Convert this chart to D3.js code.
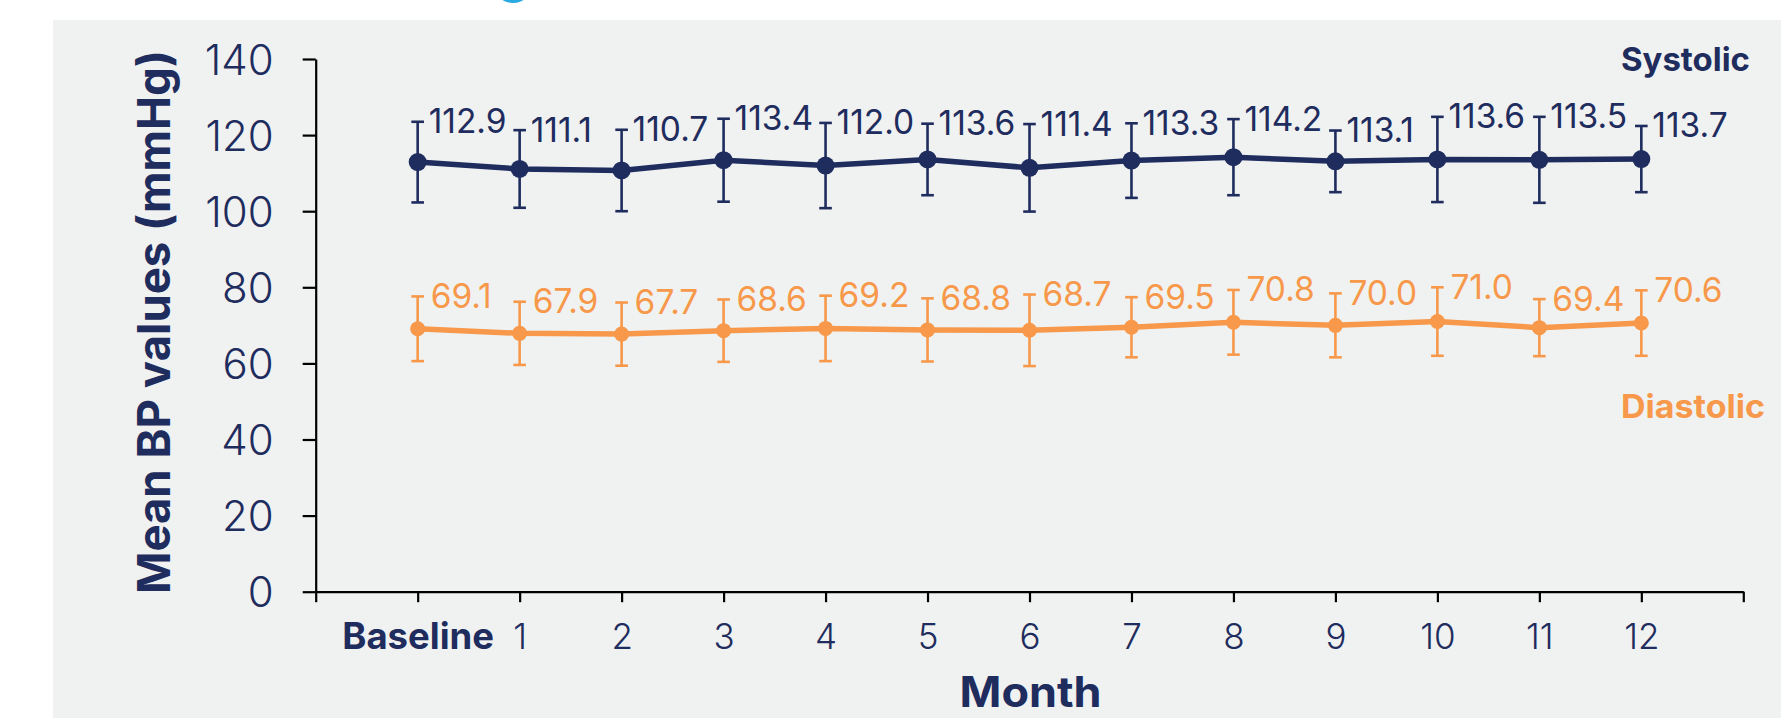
<!DOCTYPE html>
<html>
<head>
<meta charset="utf-8">
<script src="https://cdn.jsdelivr.net/npm/d3@7"></script>
<style>
  html, body { margin: 0; padding: 0; background: #ffffff; }
  svg { display: block; }
  text { font-family: "Inter", "Open Sans", sans-serif; }
</style>
</head>
<body>
<svg id="chart" width="1792" height="718"></svg>
<script>
// Mean blood pressure by month, with SD error bars
const months = [0, 1, 2, 3, 4, 5, 6, 7, 8, 9, 10, 11, 12];
const monthLabels = ["Baseline", "1", "2", "3", "4", "5", "6", "7", "8", "9", "10", "11", "12"];
const systolicMean = [112.9, 111.1, 110.7, 113.4, 112.0, 113.6, 111.4, 113.3, 114.2, 113.1, 113.6, 113.5, 113.7];
const systolicSD   = [10.6, 10.2, 10.7, 10.9, 11.2, 9.4, 11.5, 9.8, 10.0, 8.1, 11.2, 11.3, 8.7];
const diastolicMean = [69.1, 67.9, 67.7, 68.6, 69.2, 68.8, 68.7, 69.5, 70.8, 70.0, 71.0, 69.4, 70.6];
const diastolicSD   = [8.5, 8.3, 8.3, 8.2, 8.6, 8.3, 9.4, 7.9, 8.5, 8.4, 9.0, 7.5, 8.6];
const yTicks = [0, 20, 40, 60, 80, 100, 120, 140];

const NAVY = "#1f2c5e";
const ORANGE = "#f7984a";

const svg = d3.select("#chart");

// accent dot at the top edge
svg.append("circle").attr("cx", 513).attr("cy", -17).attr("r", 20).attr("fill", "#29a9e1");

// grey panel
svg.append("rect").attr("x", 53).attr("y", 20).attr("width", 1728).attr("height", 698).attr("fill", "#f0f2f1");

const x = d3.scaleLinear().domain([-1, 13]).range([315.7, 1743.3]);
const y = d3.scaleLinear().domain([0, 140]).range([591.7, 59]);

// y axis
const yAxis = svg.append("g")
  .attr("transform", `translate(${x(-1)},0)`)
  .call(d3.axisLeft(y).tickValues(yTicks).tickSize(13).tickSizeOuter(0).tickPadding(29));
yAxis.select(".domain").attr("stroke", "#000").attr("stroke-width", 2.2);
yAxis.selectAll(".tick line").attr("stroke", "#000").attr("stroke-width", 2.2);
yAxis.selectAll(".tick text")
  .attr("fill", NAVY).attr("font-size", 42).attr("font-weight", 300)
  .attr("dy", "0.36em");

// x axis
const xAxis = svg.append("g")
  .attr("transform", `translate(0,${y(0)})`)
  .call(d3.axisBottom(x).tickValues(d3.range(-1, 14)).tickSize(10.5).tickSizeOuter(0)
    .tickFormat(d => (d >= 0 && d <= 12) ? monthLabels[d] : ""));
xAxis.select(".domain").attr("stroke", "#000").attr("stroke-width", 2.2);
xAxis.selectAll(".tick line").attr("stroke", "#000").attr("stroke-width", 2.2);
xAxis.selectAll(".tick text")
  .attr("fill", NAVY).attr("font-size", 35).attr("font-weight", 300)
  .attr("y", 57).attr("dy", 0);
xAxis.selectAll(".tick text").filter(d => d === 0)
  .attr("font-weight", 700).attr("font-size", 36.5);

// axis titles
svg.append("text")
  .attr("transform", `translate(170,322) rotate(-90)`)
  .attr("text-anchor", "middle")
  .attr("fill", NAVY).attr("font-size", 45.5).attr("font-weight", 700)
  .text("Mean BP values (mmHg)");

svg.append("text")
  .attr("x", (x(-1) + x(13)) / 2 + 1).attr("y", 707)
  .attr("text-anchor", "middle")
  .attr("fill", NAVY).attr("font-size", 42).attr("font-weight", 700)
  .attr("textLength", 142).attr("lengthAdjust", "spacingAndGlyphs")
  .text("Month");

// series
const series = [
  { name: "Systolic", mean: systolicMean, sd: systolicSD, color: NAVY, r: 9, dx: 11, nameY: 70.7, nameW: 129 },
  { name: "Diastolic", mean: diastolicMean, sd: diastolicSD, color: ORANGE, r: 7.5, dx: 13, nameY: 417.7, nameW: 144 }
];

const line = d3.line().x(d => x(d.m)).y(d => y(d.v));

series.forEach(s => {
  const pts = months.map((m, i) => ({ m, v: s.mean[i], sd: s.sd[i] }));
  const g = svg.append("g");

  // error bars
  const eb = g.selectAll("g.err").data(pts).join("g").attr("class", "err");
  eb.append("line")
    .attr("x1", d => x(d.m)).attr("x2", d => x(d.m))
    .attr("y1", d => y(d.v + d.sd)).attr("y2", d => y(d.v - d.sd))
    .attr("stroke", s.color).attr("stroke-width", 2.6);
  [1, -1].forEach(sign => {
    eb.append("line")
      .attr("x1", d => x(d.m) - 6.3).attr("x2", d => x(d.m) + 6.3)
      .attr("y1", d => y(d.v + sign * d.sd)).attr("y2", d => y(d.v + sign * d.sd))
      .attr("stroke", s.color).attr("stroke-width", 2.6);
  });

  // mean line
  g.append("path").datum(pts)
    .attr("d", line).attr("fill", "none")
    .attr("stroke", s.color).attr("stroke-width", 5.5).attr("stroke-linejoin", "round");

  // markers
  g.selectAll("circle").data(pts).join("circle")
    .attr("cx", d => x(d.m)).attr("cy", d => y(d.v)).attr("r", s.r)
    .attr("fill", s.color);

  // value labels
  g.selectAll("text.val").data(pts).join("text").attr("class", "val")
    .attr("x", d => x(d.m) + s.dx).attr("y", d => y(d.v + d.sd) + 11.5)
    .attr("fill", s.color).attr("font-size", 33.5).attr("font-weight", 400)
    .text(d => d.v.toFixed(1));

  // series name
  svg.append("text")
    .attr("x", 1621).attr("y", s.nameY)
    .attr("fill", s.color).attr("font-size", 33).attr("font-weight", 700)
    .attr("textLength", s.nameW).attr("lengthAdjust", "spacingAndGlyphs")
    .text(s.name);
});
</script>
</body>
</html>
